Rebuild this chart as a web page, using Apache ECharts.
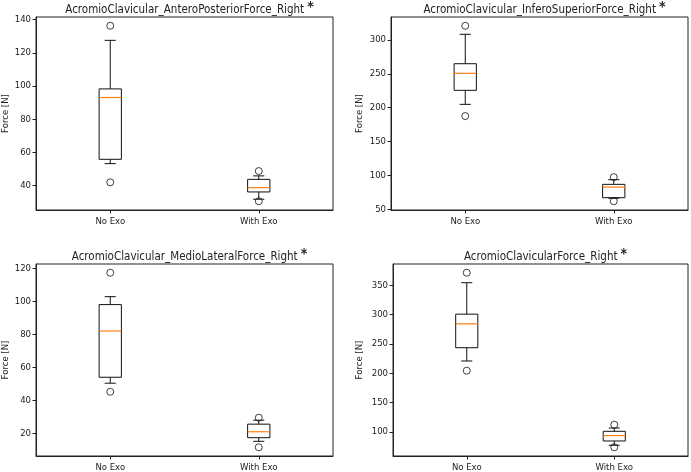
<!DOCTYPE html>
<html>
<head>
<meta charset="utf-8">
<script src="https://cdn.jsdelivr.net/npm/echarts@6/dist/echarts.min.js"></script>
<style>html,body{margin:0;padding:0;background:#fff}#c{width:691px;height:472px}</style>
</head>
<body>
<div id="c"></div>
<script>
const categories = ['No Exo', 'With Exo'];
const titles = [
  'AcromioClavicular_AnteroPosteriorForce_Right',
  'AcromioClavicular_InferoSuperiorForce_Right',
  'AcromioClavicular_MedioLateralForce_Right',
  'AcromioClavicularForce_Right'
];
const yAxisLabel = 'Force [N]';
// box stats: [lower whisker, Q1, median, Q3, upper whisker]
const apNoExo = [53.1, 55.7, 93, 98.2, 127.5];
const apWithExo = [31.6, 36.0, 38.6, 43.6, 45.7];
const apOutNoExo = [136.3, 41.8];
const apOutWithExo = [48.6, 30.4];

const isNoExo = [205, 225.7, 250.8, 265, 308.4];
const isWithExo = [66.5, 67.2, 82.9, 86.9, 93.8];
const isOutNoExo = [321, 187.7];
const isOutWithExo = [97.6, 62];

const mlNoExo = [50.4, 54, 82, 98, 102.8];
const mlWithExo = [15.2, 17.4, 21, 25.6, 28];
const mlOutNoExo = [117.3, 45.2];
const mlOutWithExo = [29.5, 11.6];

const acNoExo = [221, 243.6, 284.3, 300.8, 354.4];
const acWithExo = [77.4, 84.7, 93.9, 101.2, 106.8];
const acOutNoExo = [371.4, 204.5];
const acOutWithExo = [112.5, 74];

const ticks1 = [40, 60, 80, 100, 120, 140];
const ticks2 = [50, 100, 150, 200, 250, 300];
const ticks3 = [20, 40, 60, 80, 100, 120];
const ticks4 = [100, 150, 200, 250, 300, 350];

const panels = [
  {box: [apNoExo, apWithExo], out: [apOutNoExo, apOutWithExo], ticks: ticks1},
  {box: [isNoExo, isWithExo], out: [isOutNoExo, isOutWithExo], ticks: ticks2},
  {box: [mlNoExo, mlWithExo], out: [mlOutNoExo, mlOutWithExo], ticks: ticks3},
  {box: [acNoExo, acWithExo], out: [acOutNoExo, acOutWithExo], ticks: ticks4}
];
const gridPos = [
  {left: 36, top: 17, width: 297, height: 193, gap: 25},
  {left: 391, top: 17, width: 297, height: 193, gap: 26},
  {left: 36, top: 264, width: 297, height: 192, gap: 25},
  {left: 393, top: 264, width: 295, height: 192, gap: 28}
];

const FONT = '"DejaVu Sans Condensed", "DejaVu Sans"';
const TXT = '#222';
const grids = [], xAxes = [], yAxes = [], series = [], title = [];

panels.forEach((p, i) => {
  const g = gridPos[i];
  let all = [];
  p.box.forEach(b => all = all.concat(b));
  p.out.forEach(o => all = all.concat(o));
  const lo = Math.min(...all), hi = Math.max(...all), m = (hi - lo) * 0.05;
  grids.push({left: g.left, top: g.top, width: g.width, height: g.height,
    containLabel: false, outerBoundsMode: 'none',
    show: true, borderColor: '#222', borderWidth: 1, backgroundColor: 'transparent'});
  xAxes.push({type: 'category', gridIndex: i, data: categories,
    axisLine: {show: true, lineStyle: {color: '#222', width: 1}},
    axisTick: {show: true, alignWithLabel: true, length: 3.5, lineStyle: {color: '#222'}},
    axisLabel: {color: TXT, fontFamily: FONT, fontSize: 9.5, margin: 7},
    splitLine: {show: false}});
  yAxes.push({type: 'value', gridIndex: i, min: lo - m, max: hi + m,
    name: yAxisLabel, nameLocation: 'middle', nameGap: g.gap, nameRotate: 90,
    nameMoveOverlap: false,
    nameTextStyle: {color: TXT, fontFamily: FONT, fontSize: 9.5},
    axisLine: {show: true, lineStyle: {color: '#222', width: 1}},
    axisTick: {show: true, length: 3.5, lineStyle: {color: '#222'}, customValues: p.ticks},
    axisLabel: {color: TXT, fontFamily: FONT, fontSize: 9.5, margin: 5, customValues: p.ticks},
    splitLine: {show: false}});
  title.push({
    text: '{t|' + titles[i] + '}{s|*}',
    left: g.left + g.width / 2, top: g.top - 22, textAlign: 'center',
    textStyle: {rich: {
      t: {fontFamily: FONT, fontSize: 11.5, fontWeight: 'normal', color: TXT},
      s: {fontFamily: FONT, fontSize: 14, fontWeight: 'bold', color: TXT, padding: [0, 0, 7, 3]}
    }}
  });
  series.push({
    type: 'custom', xAxisIndex: i, yAxisIndex: i,
    data: p.box.map((b, k) => [k].concat(b)),
    renderItem: function (params, api) {
      const k = api.value(0);
      const bw = api.size([1, 0])[0] * 0.15;
      const pLo = api.coord([k, api.value(1)]);
      const pQ1 = api.coord([k, api.value(2)]);
      const pMed = api.coord([k, api.value(3)]);
      const pQ3 = api.coord([k, api.value(4)]);
      const pHi = api.coord([k, api.value(5)]);
      const x = pQ1[0];
      const st = {stroke: '#111', lineWidth: 1, fill: null};
      return {type: 'group', children: [
        {type: 'rect', shape: {x: x - bw / 2, y: pQ3[1], width: bw, height: pQ1[1] - pQ3[1]}, style: {stroke: '#111', lineWidth: 1, fill: 'transparent'}},
        {type: 'line', shape: {x1: x, y1: pQ3[1], x2: x, y2: pHi[1]}, style: st},
        {type: 'line', shape: {x1: x, y1: pQ1[1], x2: x, y2: pLo[1]}, style: st},
        {type: 'line', shape: {x1: x - bw / 4, y1: pHi[1], x2: x + bw / 4, y2: pHi[1]}, style: st},
        {type: 'line', shape: {x1: x - bw / 4, y1: pLo[1], x2: x + bw / 4, y2: pLo[1]}, style: st},
        {type: 'line', shape: {x1: x - bw / 2, y1: pMed[1], x2: x + bw / 2, y2: pMed[1]}, style: {stroke: '#ff7f0e', lineWidth: 1.2}}
      ]};
    }
  });
  const pts = [];
  p.out.forEach((o, k) => o.forEach(v => pts.push([categories[k], v])));
  series.push({type: 'scatter', xAxisIndex: i, yAxisIndex: i, data: pts,
    symbol: 'circle', symbolSize: 7,
    itemStyle: {color: 'transparent', borderColor: '#111', borderWidth: 1}});
});

const chart = echarts.init(document.getElementById('c'), null, {renderer: 'canvas'});
chart.setOption({animation: false, backgroundColor: '#fff', title, grid: grids, xAxis: xAxes, yAxis: yAxes, series});
</script>
</body>
</html>
